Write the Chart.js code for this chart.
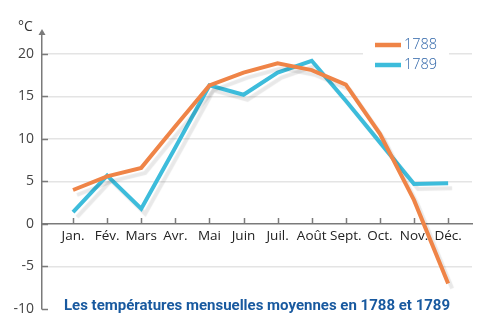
<!DOCTYPE html>
<html>
<head>
<meta charset="utf-8">
<script src="https://cdn.jsdelivr.net/npm/chart.js@4.4.1/dist/chart.umd.min.js"></script>
<style>
  body { margin: 0; background: #fff; }
  #wrap { width: 500px; height: 334px; position: relative; }
</style>
</head>
<body>
<div id="wrap"><canvas id="myChart"></canvas></div>
<script>
var months = ['Jan.', 'Fév.', 'Mars', 'Avr.', 'Mai', 'Juin', 'Juil.', 'Août', 'Sept.', 'Oct.', 'Nov.', 'Déc.'];
var temp1788 = [4.0, 5.6, 6.6, 11.5, 16.3, 17.8, 18.9, 18.1, 16.4, 10.6, 2.8, -7.0];
var temp1789 = [1.4, 5.7, 1.8, 9.0, 16.3, 15.2, 17.8, 19.2, 14.5, 9.6, 4.7, 4.8];
var yTicks = [-10, -5, 0, 5, 10, 15, 20];
var seriesNames = ['1788', '1789'];
var chartTitle = 'Les températures mensuelles moyennes en 1788 et 1789';

var orange = '#ef8447';
var cyan = '#3dbcdb';
var axisGray = '#7a7a7a';

function toPoints(arr) {
  return arr.map(function (v, i) { return { x: i, y: v }; });
}

// shadow under the lines
var shadowPlugin = {
  id: 'shadow',
  beforeDatasetDraw: function (chart) {
    var ctx = chart.ctx;
    ctx.save();
    ctx.shadowColor = 'rgba(0,0,0,0.09)';
    ctx.shadowOffsetX = 4;
    ctx.shadowOffsetY = 5;
    ctx.shadowBlur = 1;
  },
  afterDatasetDraw: function (chart) {
    chart.ctx.restore();
  }
};

// arrow, tick marks, legend, title, unit
var decoPlugin = {
  id: 'deco',
  beforeDatasetsDraw: function (chart) {
    var ctx = chart.ctx;
    var xs = chart.scales.x, ys = chart.scales.y;
    var area = chart.chartArea;
    var y0 = ys.getPixelForValue(0);
    ctx.save();
    ctx.strokeStyle = axisGray;
    ctx.lineWidth = 1.5;
    // x ticks pointing up
    xs.ticks.forEach(function (t) {
      var px = Math.round(xs.getPixelForValue(t.value)) + 0.5;
      ctx.beginPath();
      ctx.moveTo(px, y0 - 6);
      ctx.lineTo(px, y0);
      ctx.stroke();
    });
    // y ticks pointing right
    ys.ticks.forEach(function (t) {
      var py = Math.round(ys.getPixelForValue(t.value)) + 0.5;
      ctx.beginPath();
      ctx.moveTo(area.left, py);
      ctx.lineTo(area.left + 6, py);
      ctx.stroke();
    });
    // arrow at the top of the y axis
    ctx.fillStyle = axisGray;
    ctx.beginPath();
    ctx.moveTo(area.left - 3.5, area.top + 1);
    ctx.lineTo(area.left, area.top - 5);
    ctx.lineTo(area.left + 3.5, area.top + 1);
    ctx.closePath();
    ctx.fill();
    // unit
    ctx.fillStyle = '#333';
    ctx.font = '14px "Open Sans"';
    ctx.textAlign = 'left';
    ctx.textBaseline = 'middle';
    ctx.fillText('°C', 18, 27);
    ctx.restore();
  },
  afterDraw: function (chart) {
    var ctx = chart.ctx;
    ctx.save();
    // legend
    ctx.fillStyle = '#fff';
    ctx.fillRect(363, 34, 86, 42);
    var colors = [orange, cyan];
    var rows = [45, 65];
    ctx.font = '300 14.5px "Open Sans"';
    ctx.textBaseline = 'middle';
    ctx.textAlign = 'left';
    for (var i = 0; i < seriesNames.length; i++) {
      ctx.strokeStyle = colors[i];
      ctx.lineWidth = 4.5;
      ctx.beginPath();
      ctx.moveTo(375, rows[i]);
      ctx.lineTo(401, rows[i]);
      ctx.stroke();
      ctx.fillStyle = '#2f65a8';
      ctx.fillText(seriesNames[i], 404, rows[i]);
    }
    // title
    ctx.fillStyle = '#18599f';
    ctx.font = 'bold 15px Roboto';
    ctx.textAlign = 'center';
    ctx.fillText(chartTitle, 257, 306);
    ctx.restore();
  }
};

var ctx = document.getElementById('myChart').getContext('2d');

var chartData = {
  type: 'line',
  data: {
    datasets: [
      {
        label: seriesNames[0],
        data: toPoints(temp1788),
        borderColor: orange,
        borderWidth: 4,
        pointRadius: 0,
        tension: 0,
      },
      {
        label: seriesNames[1],
        data: toPoints(temp1789),
        borderColor: cyan,
        borderWidth: 4,
        pointRadius: 0,
        tension: 0,
      },
    ],
  },
  options: {
    responsive: true,
    maintainAspectRatio: false,
    animation: false,
    layout: { padding: { top: 34, bottom: 25, left: 0, right: 28 } },
    plugins: {
      legend: { display: false },
      tooltip: { enabled: false },
    },
    scales: {
      x: {
        type: 'linear',
        position: { y: 0 },
        min: -0.91,
        max: 11.7,
        afterBuildTicks: function (scale) {
          scale.ticks = months.map(function (m, i) { return { value: i }; });
        },
        ticks: {
          autoSkip: false,
          maxRotation: 0,
          padding: 4,
          color: '#222',
          font: { family: 'Open Sans', size: 13.5 },
          callback: function (v) { return months[v]; },
        },
        grid: { display: false, drawTicks: false },
        border: { display: true, color: axisGray, width: 1.5 },
      },
      y: {
        min: -10,
        max: 22.35,
        afterBuildTicks: function (scale) {
          scale.ticks = yTicks.map(function (v) { return { value: v }; });
        },
        afterFit: function (scale) { scale.width = 42; },
        ticks: {
          padding: 8,
          color: '#444',
          font: { family: 'Open Sans', size: 14 },
        },
        grid: {
          drawTicks: false,
          color: function (c) {
            return (c.tick && (c.tick.value === -10 || c.tick.value === 0)) ? 'rgba(0,0,0,0)' : '#e4e4e4';
          },
          lineWidth: 1.5,
        },
        border: { display: true, color: axisGray, width: 1.5 },
      },
    },
  },
  plugins: [shadowPlugin, decoPlugin],
};

var myChart = new Chart(ctx, chartData);
</script>
</body>
</html>
